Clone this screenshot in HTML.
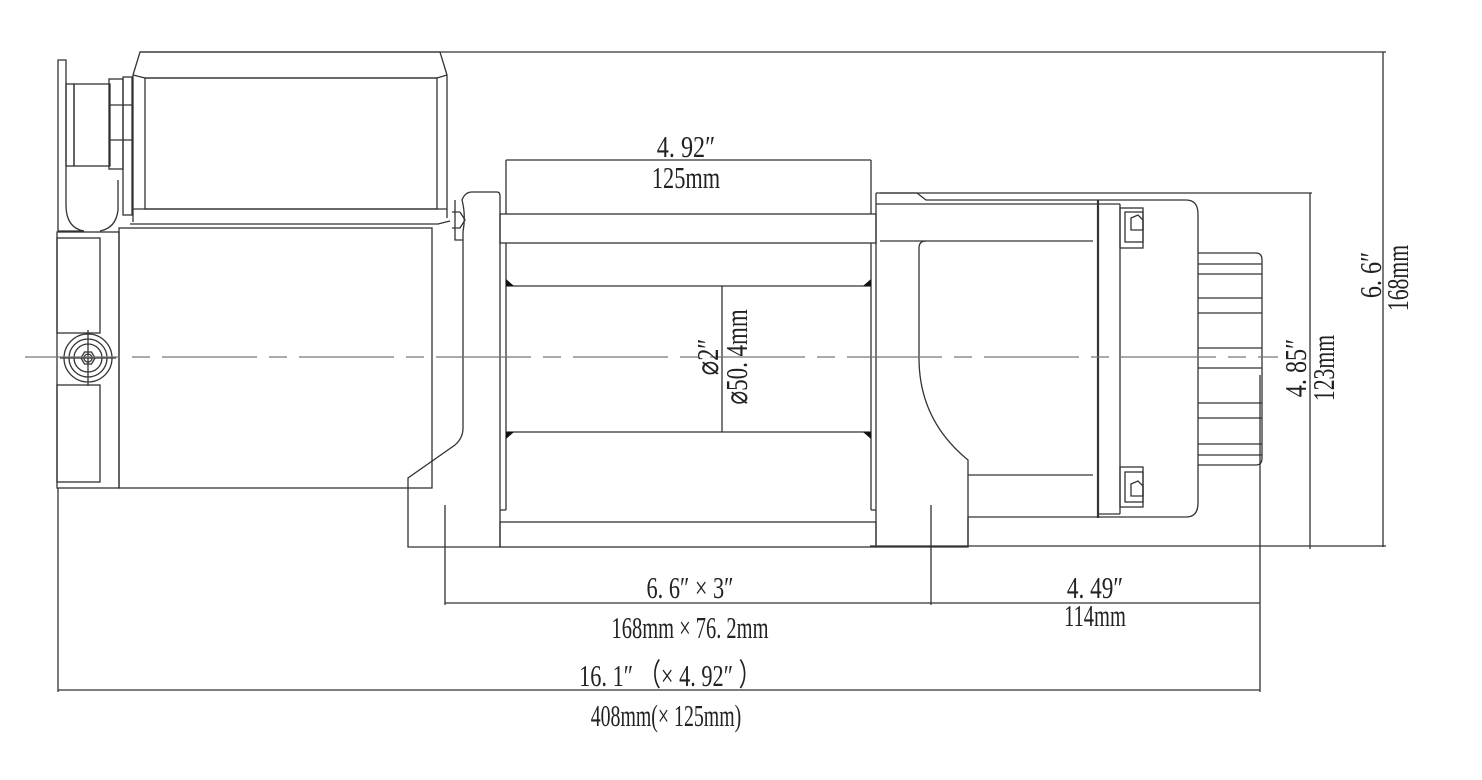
<!DOCTYPE html>
<html><head><meta charset="utf-8"><style>
html,body{margin:0;padding:0;background:#fff;}
svg{display:block;}
text{font-family:"Liberation Serif",serif;fill:#222;}
</style></head><body>
<svg width="1482" height="780" viewBox="0 0 1482 780" xmlns="http://www.w3.org/2000/svg">
<g fill="none" stroke="#333" stroke-width="1.3">
<line x1="140" y1="52" x2="1386" y2="52"/>
<line x1="1383" y1="52" x2="1383" y2="547"/>
<line x1="1260" y1="546" x2="1386" y2="546"/>
<line x1="880" y1="193" x2="1312" y2="193"/>
<line x1="1310" y1="193" x2="1310" y2="549"/>
<path d="M133,75 L140,52 L440,52 L447,75 L447,218"/>
<path d="M133,75 L145,78 L437,78 L447,75"/>
<path d="M133,75 L133,222"/>
<rect x="145" y="78" width="292" height="131"/>
<line x1="133" y1="209" x2="447" y2="209"/>
<path d="M130,224 L438,224 L450,221"/>
<path d="M58,60 L66,60 L66,205 Q66,228 84,231 L58,231 Z"/>
<path d="M118,180 L118,210 Q116,228 100,231"/>
<rect x="66" y="84" width="8" height="82"/>
<rect x="74" y="84" width="36" height="82"/>
<rect x="109" y="79" width="14" height="90"/>
<rect x="123" y="77" width="9" height="138"/>
<line x1="109" y1="105" x2="132" y2="105"/>
<line x1="109" y1="140" x2="132" y2="140"/>
<rect x="119" y="228" width="313" height="260"/>
<rect x="57" y="232" width="62" height="256"/>
<rect x="57" y="238" width="43" height="95"/>
<rect x="57" y="385" width="43" height="97"/>
<line x1="58" y1="488" x2="58" y2="692"/>
<circle cx="88" cy="358" r="24"/>
<circle cx="88" cy="358" r="19"/>
<circle cx="88" cy="358" r="14"/>
<polygon points="95,358 91.5,364 84.5,364 81,358 84.5,352 91.5,352"/>
<circle cx="88" cy="358" r="4"/>
<line x1="88" y1="330" x2="88" y2="386"/>
<line x1="60" y1="358" x2="116" y2="358"/>
<path d="M408,547 L408,478 L455,445 Q463,438 463,428 L463,232 Q466,215 462,200 Q465,192 472,192 L497,192 Q500,192 500,196 L500,547 Z"/>
<path d="M455,200 L455,240 L463,240 M452,212 L460,212 M452,228 L460,228 L465,220 L460,212"/>
<line x1="445" y1="505" x2="445" y2="605"/>
<rect x="500" y="214" width="376" height="29"/>
<rect x="500" y="522" width="376" height="25"/>
<line x1="506" y1="208" x2="506" y2="214"/>
<line x1="871" y1="208" x2="871" y2="214"/>
<line x1="506" y1="243" x2="506" y2="510"/>
<line x1="871" y1="243" x2="871" y2="510"/>
<line x1="500" y1="510" x2="506" y2="510"/>
<line x1="871" y1="510" x2="876" y2="510"/>
<line x1="506" y1="286" x2="871" y2="286"/>
<line x1="506" y1="432" x2="871" y2="432"/>
<line x1="722" y1="286" x2="722" y2="432"/>
<path d="M876,193 L917,193 L926,200 L1186,200 Q1198,200 1198,214 L1198,503 Q1198,517 1186,517 L968,517"/>
<path d="M876,193 L876,547 L968,547 L968,475"/>
<line x1="876" y1="204" x2="1120" y2="204"/>
<line x1="880" y1="241" x2="1093" y2="241"/>
<path d="M926,241 Q919,241 919,248 L919,358 Q919,420 968,460 L968,475 L1093,475"/>
<line x1="968" y1="517" x2="968" y2="547"/>
<line x1="870" y1="546" x2="1260" y2="546"/>
<line x1="931" y1="505" x2="931" y2="605"/>
<line x1="1098" y1="200" x2="1098" y2="518" stroke-width="2.2"/>
<line x1="1120" y1="204" x2="1120" y2="514"/>
<line x1="1098" y1="514" x2="1120" y2="514"/>
<rect x="1120" y="208" width="23" height="40"/><rect x="1125" y="212" width="18" height="30"/><path d="M1131,218 L1138,215 L1143,220 L1143,230 L1131,230 Z"/>
<rect x="1120" y="467" width="23" height="40"/><rect x="1125" y="472" width="18" height="30"/><path d="M1131,484 L1138,481 L1143,486 L1143,496 L1131,496 Z"/>
<path d="M1198,253 L1256,253 Q1262,253 1262,260 L1262,458 Q1262,465 1256,465 L1198,465"/>
<line x1="1198" y1="264" x2="1262" y2="264"/><line x1="1198" y1="274" x2="1262" y2="274"/>
<line x1="1198" y1="298" x2="1262" y2="298"/><line x1="1198" y1="313" x2="1262" y2="313"/>
<line x1="1198" y1="348" x2="1262" y2="348"/><line x1="1198" y1="368" x2="1262" y2="368"/>
<line x1="1198" y1="403" x2="1262" y2="403"/><line x1="1198" y1="418" x2="1262" y2="418"/>
<line x1="1198" y1="444" x2="1262" y2="444"/><line x1="1198" y1="455" x2="1262" y2="455"/>
<line x1="1260" y1="375" x2="1260" y2="692"/>
<line x1="506" y1="160" x2="871" y2="160"/>
<line x1="506" y1="160" x2="506" y2="208"/>
<line x1="871" y1="160" x2="871" y2="208"/>
<line x1="445" y1="603" x2="1260" y2="603"/>
<line x1="58" y1="690" x2="1260" y2="690"/>
<line x1="25" y1="357" x2="1278" y2="357" stroke="#777" stroke-width="1.2" stroke-dasharray="95,12,18,12"/>
</g>
<g fill="#111">
<polygon points="506,279 514,286 506,286"/><polygon points="871,279 863,286 871,286"/>
<polygon points="506,439 514,432 506,432"/><polygon points="871,439 863,432 871,432"/>
</g>
<g font-size="31" text-anchor="middle">
<text x="686" y="157" transform="translate(686 0) scale(0.78 1) translate(-686 0)">4. 92″</text>
<text x="686" y="188" transform="translate(686 0) scale(0.72 1) translate(-686 0)">125mm</text>
<text x="690" y="598" transform="translate(690 0) scale(0.72 1) translate(-690 0)">6. 6″  × 3″</text>
<text x="690" y="638" transform="translate(690 0) scale(0.66 1) translate(-690 0)">168mm × 76. 2mm</text>
<text x="1095" y="598" transform="translate(1095 0) scale(0.75 1) translate(-1095 0)">4. 49″</text>
<text x="1095" y="626" transform="translate(1095 0) scale(0.66 1) translate(-1095 0)">114mm</text>
<text x="670" y="686" transform="translate(670 0) scale(0.72 1) translate(-670 0)">16. 1″ （× 4. 92″ ）</text>
<text x="666" y="726" transform="translate(666 0) scale(0.64 1) translate(-666 0)">408mm(× 125mm)</text>
<g transform="translate(718 357) rotate(-90) scale(0.78 1)"><text x="0" y="0">⌀2″</text></g>
<g transform="translate(747 357) rotate(-90) scale(0.74 1)"><text x="0" y="0">⌀50. 4mm</text></g>
<g transform="translate(1381 275) rotate(-90) scale(0.78 1)"><text x="0" y="0">6. 6″</text></g>
<g transform="translate(1408 278) rotate(-90) scale(0.7 1)"><text x="0" y="0">168mm</text></g>
<g transform="translate(1306 368) rotate(-90) scale(0.78 1)"><text x="0" y="0">4. 85″</text></g>
<g transform="translate(1334 368) rotate(-90) scale(0.7 1)"><text x="0" y="0">123mm</text></g>
</g>
</svg>
</body></html>
